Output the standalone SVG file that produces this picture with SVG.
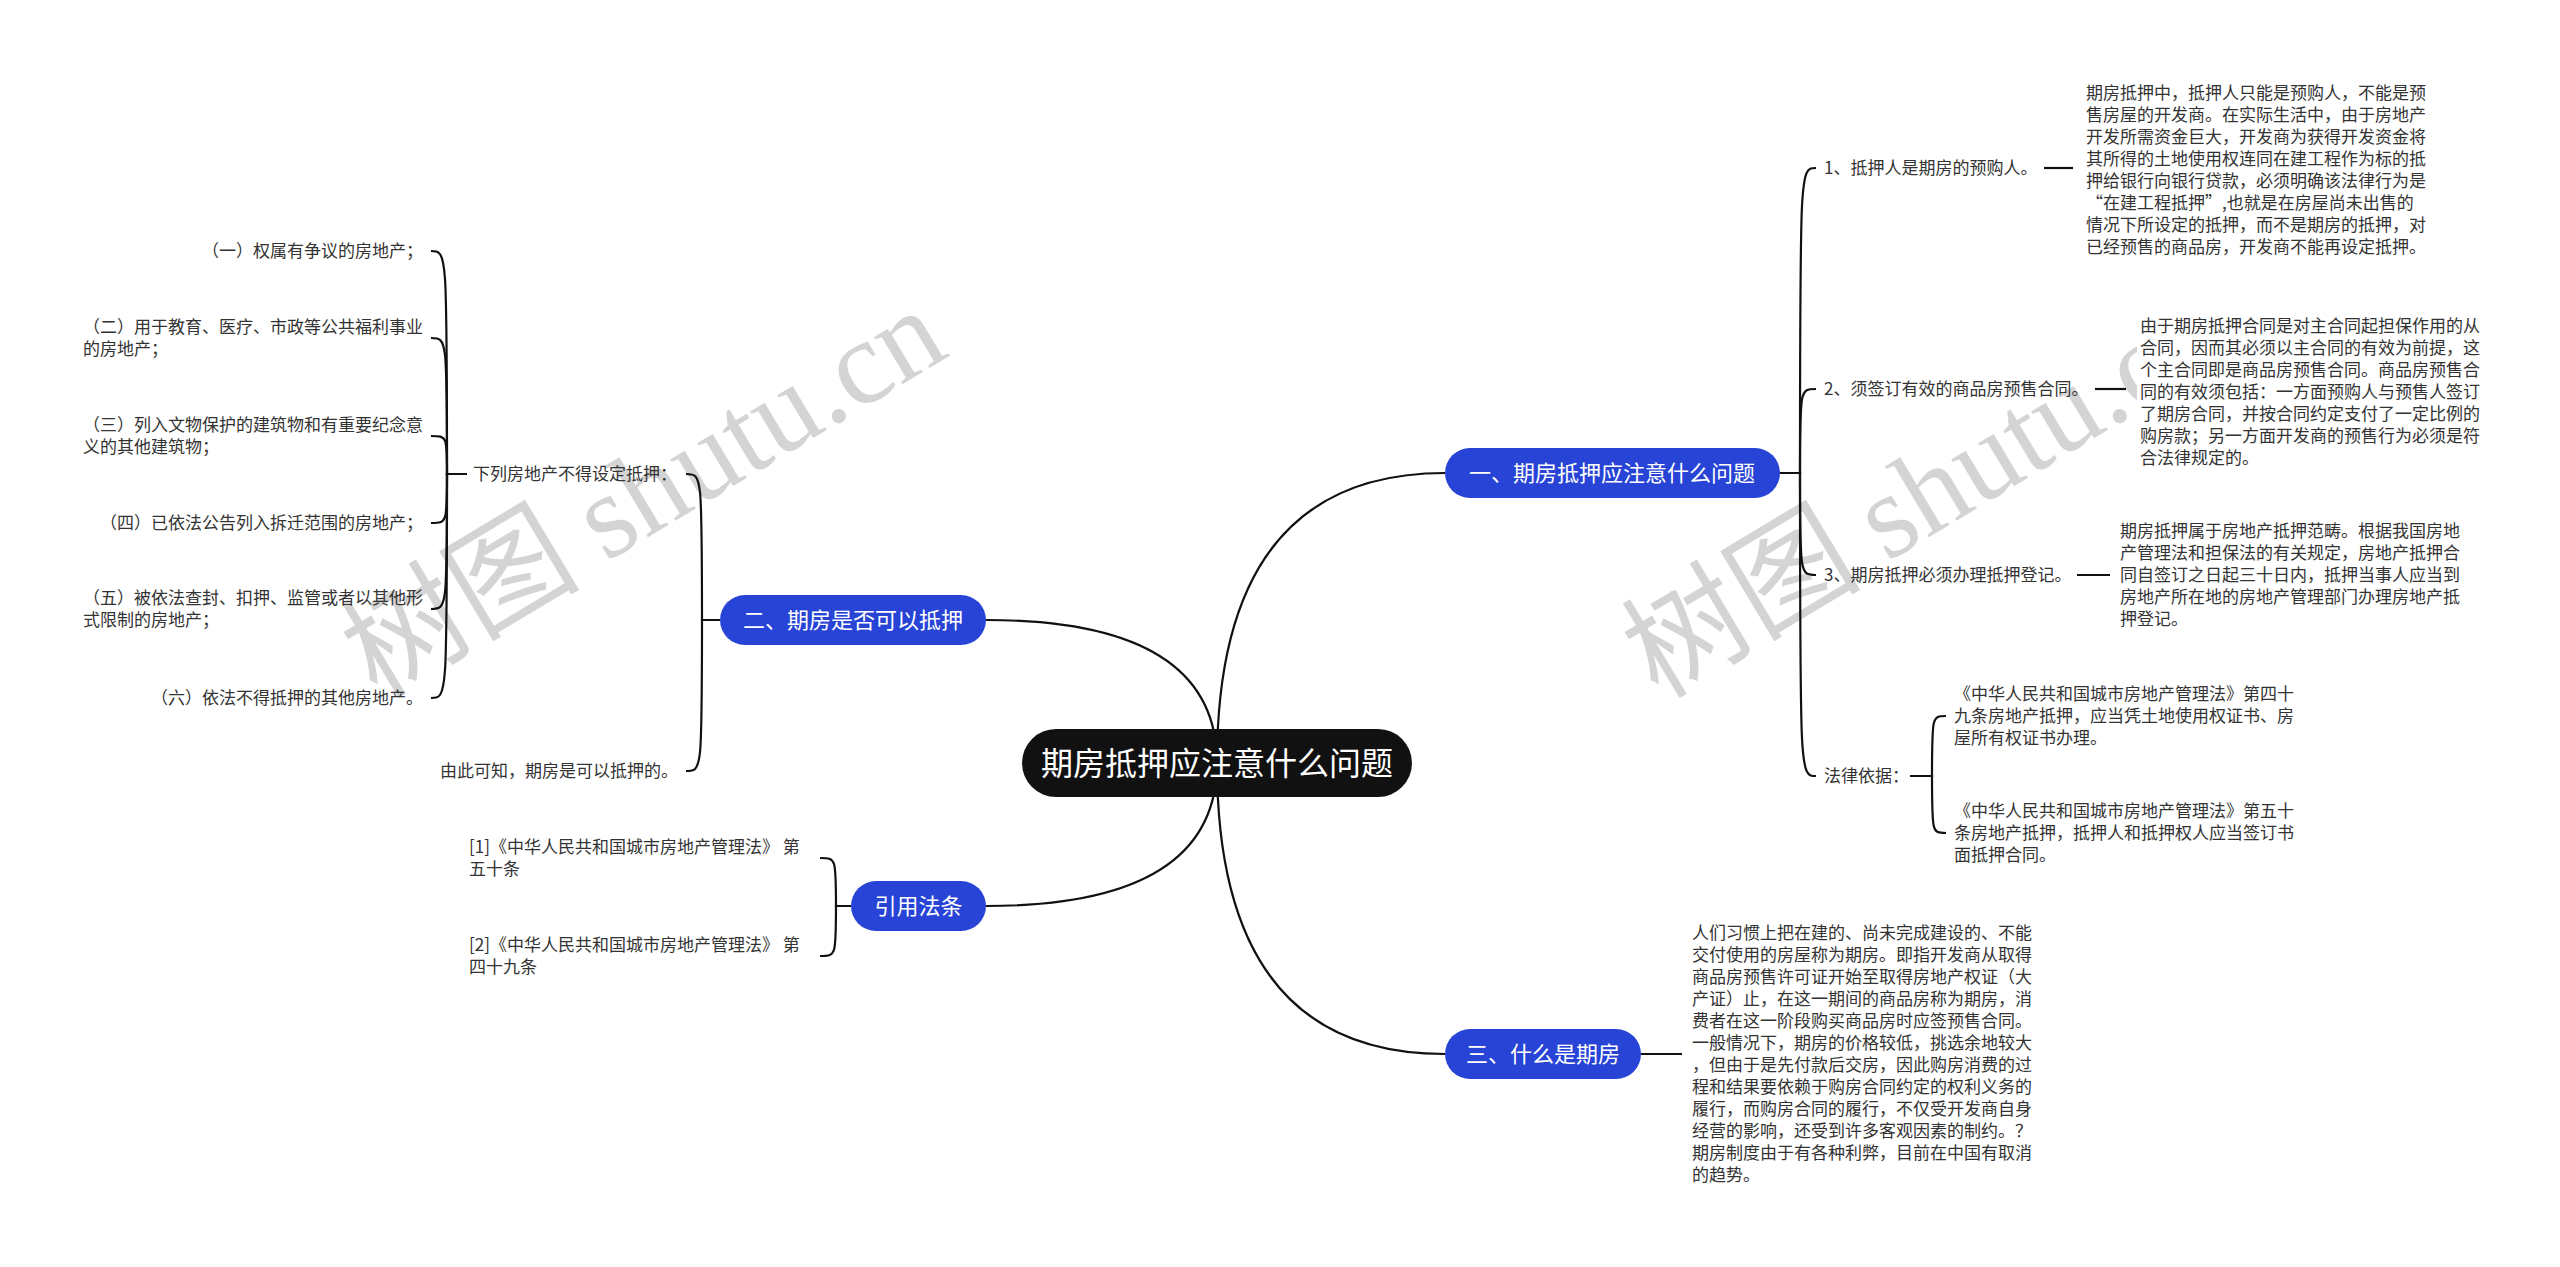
<svg xmlns="http://www.w3.org/2000/svg" width="2560" height="1267" viewBox="0 0 2560 1267">
<style>
.t{font-family:"Noto Sans CJK SC","Microsoft YaHei",sans-serif;font-size:17px;fill:#333}
.e{text-anchor:end}
.nt{font-family:"Noto Sans CJK SC","Microsoft YaHei",sans-serif;font-size:22px;fill:#fff;text-anchor:middle}
.rt{font-family:"Noto Sans CJK SC","Microsoft YaHei",sans-serif;font-size:32px;fill:#fff;text-anchor:middle}
.blue{fill:#2744D6}
.c{fill:none;stroke:#111;stroke-width:2.2}
.wm{font-family:"Noto Sans CJK SC",sans-serif;font-size:120px;fill:#d4d4d4}
.wm tspan{font-family:"Liberation Serif",serif}
</style>
<rect width="2560" height="1267" fill="#fff"/>
<g id="watermark">
<text class="wm" transform="translate(377 700) rotate(-31)">树图 <tspan>shutu.cn</tspan></text>
<text class="wm" transform="translate(1658 700) rotate(-31)">树图 <tspan>shutu.cn</tspan></text>
</g>
<g id="connectors">
<path class="c" d="M1217 763 Q1217 473 1445 473"/>
<path class="c" d="M1217 763 Q1217 620 986 620"/>
<path class="c" d="M1217 763 Q1217 906 986 906"/>
<path class="c" d="M1217 763 Q1217 1054 1445 1054"/>
<path class="c" d="M1780 473 H1800 C1800 168 1800 168 1816 168"/>
<path class="c" d="M1780 473 H1800 C1800 389 1800 389 1816 389"/>
<path class="c" d="M1780 473 H1800 C1800 575 1800 575 1816 575"/>
<path class="c" d="M1780 473 H1800 C1800 776 1800 776 1816 776"/>
<path class="c" d="M2044 168 H2073"/>
<path class="c" d="M2095 389 H2126"/>
<path class="c" d="M2077 575 H2110"/>
<path class="c" d="M1910 776 H1932 C1932 716 1932 716 1946 716"/>
<path class="c" d="M1910 776 H1932 C1932 833 1932 833 1946 833"/>
<path class="c" d="M720 620 H702 C702 474 702 474 686 474"/>
<path class="c" d="M720 620 H702 C702 771 702 771 686 771"/>
<path class="c" d="M467 474 H447 C447 251 447 251 431 251"/>
<path class="c" d="M467 474 H447 C447 338 447 338 431 338"/>
<path class="c" d="M467 474 H447 C447 436 447 436 431 436"/>
<path class="c" d="M467 474 H447 C447 523 447 523 431 523"/>
<path class="c" d="M467 474 H447 C447 609 447 609 431 609"/>
<path class="c" d="M467 474 H447 C447 698 447 698 431 698"/>
<path class="c" d="M851 906 H836 C836 858 836 858 820 858"/>
<path class="c" d="M851 906 H836 C836 956 836 956 820 956"/>
<path class="c" d="M1641 1054 H1682"/>
</g>
<g id="root">
<rect x="1022" y="729" width="390" height="68" rx="34" fill="#111"/>
<text class="rt" x="1217" y="775">期房抵押应注意什么问题</text>
</g>
<g id="n1">
<rect class="blue" x="1445" y="448" width="335" height="50" rx="25"/>
<text class="nt" x="1612" y="481">一、期房抵押应注意什么问题</text>
</g>
<g id="n2">
<rect class="blue" x="720" y="595" width="266" height="50" rx="25"/>
<text class="nt" x="853" y="628">二、期房是否可以抵押</text>
</g>
<g id="n3">
<rect class="blue" x="851" y="881" width="135" height="50" rx="25"/>
<text class="nt" x="918.5" y="914">引用法条</text>
</g>
<g id="n4">
<rect class="blue" x="1445" y="1029" width="196" height="50" rx="25"/>
<text class="nt" x="1543" y="1062">三、什么是期房</text>
</g>
<g id="n1-1"><text class="t" x="1824" y="174">1、抵押人是期房的预购人。</text></g>
<g id="n1-1-d">
<text class="t" x="2086" y="99"><tspan x="2086" y="99">期房抵押中，抵押人只能是预购人，不能是预</tspan><tspan x="2086" y="121">售房屋的开发商。在实际生活中，由于房地产</tspan><tspan x="2086" y="143">开发所需资金巨大，开发商为获得开发资金将</tspan><tspan x="2086" y="165">其所得的土地使用权连同在建工程作为标的抵</tspan><tspan x="2086" y="187">押给银行向银行贷款，必须明确该法律行为是</tspan><tspan x="2086" y="209">“在建工程抵押”,也就是在房屋尚未出售的</tspan><tspan x="2086" y="231">情况下所设定的抵押，而不是期房的抵押，对</tspan><tspan x="2086" y="253">已经预售的商品房，开发商不能再设定抵押。</tspan></text>
</g>
<g id="n1-2"><text class="t" x="1824" y="395">2、须签订有效的商品房预售合同。</text></g>
<g id="n1-2-d">
<rect x="2137" y="310" width="350" height="162" fill="#fff"/>
<text class="t"><tspan x="2140" y="332">由于期房抵押合同是对主合同起担保作用的从</tspan><tspan x="2140" y="354">合同，因而其必须以主合同的有效为前提，这</tspan><tspan x="2140" y="376">个主合同即是商品房预售合同。商品房预售合</tspan><tspan x="2140" y="398">同的有效须包括：一方面预购人与预售人签订</tspan><tspan x="2140" y="420">了期房合同，并按合同约定支付了一定比例的</tspan><tspan x="2140" y="442">购房款；另一方面开发商的预售行为必须是符</tspan><tspan x="2140" y="464">合法律规定的。</tspan></text>
</g>
<g id="n1-3"><text class="t" x="1824" y="581">3、期房抵押必须办理抵押登记。</text></g>
<g id="n1-3-d">
<text class="t"><tspan x="2120" y="537">期房抵押属于房地产抵押范畴。根据我国房地</tspan><tspan x="2120" y="559">产管理法和担保法的有关规定，房地产抵押合</tspan><tspan x="2120" y="581">同自签订之日起三十日内，抵押当事人应当到</tspan><tspan x="2120" y="603">房地产所在地的房地产管理部门办理房地产抵</tspan><tspan x="2120" y="625">押登记。</tspan></text>
</g>
<g id="n1-4"><text class="t" x="1824" y="782">法律依据：</text></g>
<g id="n1-4-a">
<text class="t"><tspan x="1954" y="700">《中华人民共和国城市房地产管理法》第四十</tspan><tspan x="1954" y="722">九条房地产抵押，应当凭土地使用权证书、房</tspan><tspan x="1954" y="744">屋所有权证书办理。</tspan></text>
</g>
<g id="n1-4-b">
<text class="t"><tspan x="1954" y="817">《中华人民共和国城市房地产管理法》第五十</tspan><tspan x="1954" y="839">条房地产抵押，抵押人和抵押权人应当签订书</tspan><tspan x="1954" y="861">面抵押合同。</tspan></text>
</g>
<g id="n2-1"><text class="t" x="473" y="480">下列房地产不得设定抵押：</text></g>
<g id="n2-1-1"><text class="t e" x="423" y="257">（一）权属有争议的房地产；</text></g>
<g id="n2-1-2"><text class="t"><tspan x="83" y="333">（二）用于教育、医疗、市政等公共福利事业</tspan><tspan x="83" y="355">的房地产；</tspan></text></g>
<g id="n2-1-3"><text class="t"><tspan x="83" y="431">（三）列入文物保护的建筑物和有重要纪念意</tspan><tspan x="83" y="453">义的其他建筑物；</tspan></text></g>
<g id="n2-1-4"><text class="t e" x="423" y="529">（四）已依法公告列入拆迁范围的房地产；</text></g>
<g id="n2-1-5"><text class="t"><tspan x="83" y="604">（五）被依法查封、扣押、监管或者以其他形</tspan><tspan x="83" y="626">式限制的房地产；</tspan></text></g>
<g id="n2-1-6"><text class="t e" x="423" y="704">（六）依法不得抵押的其他房地产。</text></g>
<g id="n2-2"><text class="t" x="440" y="777">由此可知，期房是可以抵押的。</text></g>
<g id="n3-1"><text class="t"><tspan x="469" y="853">[1]《中华人民共和国城市房地产管理法》 第</tspan><tspan x="469" y="875">五十条</tspan></text></g>
<g id="n3-2"><text class="t"><tspan x="469" y="951">[2]《中华人民共和国城市房地产管理法》 第</tspan><tspan x="469" y="973">四十九条</tspan></text></g>
<g id="n4-1">
<text class="t"><tspan x="1692" y="939">人们习惯上把在建的、尚未完成建设的、不能</tspan><tspan x="1692" y="961">交付使用的房屋称为期房。即指开发商从取得</tspan><tspan x="1692" y="983">商品房预售许可证开始至取得房地产权证（大</tspan><tspan x="1692" y="1005">产证）止，在这一期间的商品房称为期房，消</tspan><tspan x="1692" y="1027">费者在这一阶段购买商品房时应签预售合同。</tspan><tspan x="1692" y="1049">一般情况下，期房的价格较低，挑选余地较大</tspan><tspan x="1692" y="1071">，但由于是先付款后交房，因此购房消费的过</tspan><tspan x="1692" y="1093">程和结果要依赖于购房合同约定的权利义务的</tspan><tspan x="1692" y="1115">履行，而购房合同的履行，不仅受开发商自身</tspan><tspan x="1692" y="1137">经营的影响，还受到许多客观因素的制约。？</tspan><tspan x="1692" y="1159">期房制度由于有各种利弊，目前在中国有取消</tspan><tspan x="1692" y="1181">的趋势。</tspan></text>
</g>
</svg>
